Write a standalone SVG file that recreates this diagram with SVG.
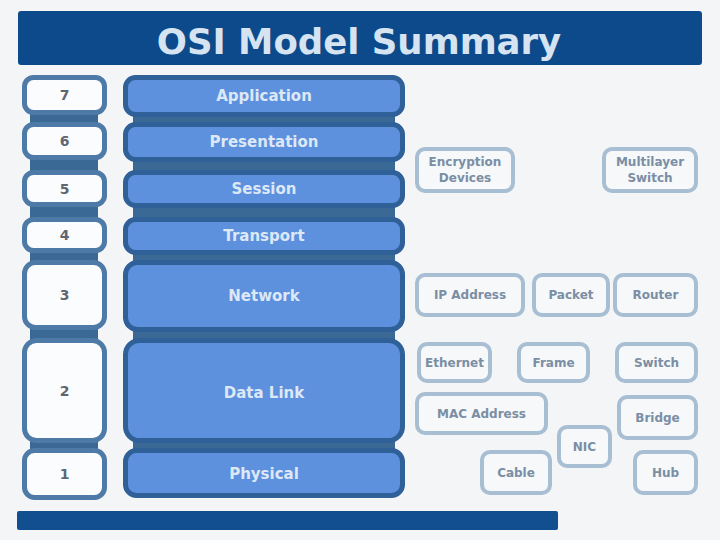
<svg xmlns="http://www.w3.org/2000/svg" width="720" height="540" viewBox="0 0 720 540">
<style>
  .num { fill:#fbfcfd; stroke:#4d7aa6; stroke-width:5; }
  .numt { font-family:"DejaVu Sans",Verdana,sans-serif; font-weight:bold; font-size:14px; fill:#5f6670; text-anchor:middle; }
  .bar { fill:#5d90dd; stroke:#2f6098; stroke-width:5; }
  .bart { font-family:"DejaVu Sans",Verdana,sans-serif; font-weight:bold; font-size:15px; fill:#dde8f7; text-anchor:middle; }
  .dev { fill:#f6f8fa; stroke:#a8bed3; stroke-width:4; }
  .devt { font-family:"DejaVu Sans",Verdana,sans-serif; font-weight:bold; font-size:12px; fill:#7a8ea4; text-anchor:middle; }
  .join { fill:#3a6995; }
</style>
<rect x="0" y="0" width="720" height="540" fill="#f4f5f7"/>
<g id="title">
  <rect x="18" y="11" width="684" height="54" rx="3" fill="#0d4a8c"/>
  <text x="359" y="54" font-family="'DejaVu Sans',Verdana,sans-serif" font-weight="bold" font-size="35.5" fill="#d6e4f2" text-anchor="middle">OSI Model Summary</text>
</g>
<g id="connectors">
  <rect class="join" x="30" y="112" width="68" height="14"/>
  <rect class="join" x="30" y="158" width="68" height="16"/>
  <rect class="join" x="30" y="203" width="68" height="18"/>
  <rect class="join" x="30" y="249" width="68" height="15"/>
  <rect class="join" x="30" y="327" width="68" height="15"/>
  <rect class="join" x="30" y="438" width="68" height="14"/>
  <rect class="join" x="133" y="113" width="262" height="13"/>
  <rect class="join" x="133" y="158" width="262" height="16"/>
  <rect class="join" x="133" y="204" width="262" height="17"/>
  <rect class="join" x="133" y="251" width="262" height="13"/>
  <rect class="join" x="133" y="328" width="262" height="14"/>
  <rect class="join" x="133" y="439" width="262" height="13"/>
</g>
<g id="layer7">
  <rect class="num" x="24.5" y="77.5" width="80" height="35" rx="9"/>
  <text class="numt" x="64.5" y="100">7</text>
  <rect class="bar" x="125.5" y="77.5" width="277" height="37" rx="10"/>
  <text class="bart" x="264" y="101">Application</text>
</g>
<g id="layer6">
  <rect class="num" x="24.5" y="124.5" width="80" height="33" rx="9"/>
  <text class="numt" x="64.5" y="146">6</text>
  <rect class="bar" x="125.5" y="124.5" width="277" height="35" rx="10"/>
  <text class="bart" x="264" y="147">Presentation</text>
</g>
<g id="layer5">
  <rect class="num" x="24.5" y="172.5" width="80" height="32" rx="9"/>
  <text class="numt" x="64.5" y="194">5</text>
  <rect class="bar" x="125.5" y="172.5" width="277" height="33" rx="10"/>
  <text class="bart" x="264" y="194">Session</text>
</g>
<g id="layer4">
  <rect class="num" x="24.5" y="219.5" width="80" height="31" rx="9"/>
  <text class="numt" x="64.5" y="240">4</text>
  <rect class="bar" x="125.5" y="219.5" width="277" height="33" rx="10"/>
  <text class="bart" x="264" y="241">Transport</text>
</g>
<g id="layer3">
  <rect class="num" x="24.5" y="262.5" width="80" height="65" rx="11"/>
  <text class="numt" x="64.5" y="300">3</text>
  <rect class="bar" x="125.5" y="262.5" width="277" height="67" rx="12"/>
  <text class="bart" x="264" y="301">Network</text>
</g>
<g id="layer2">
  <rect class="num" x="24.5" y="340.5" width="80" height="100" rx="12"/>
  <text class="numt" x="64.5" y="396">2</text>
  <rect class="bar" x="125.5" y="340.5" width="277" height="100" rx="14"/>
  <text class="bart" x="264" y="398">Data Link</text>
</g>
<g id="layer1">
  <rect class="num" x="24.5" y="450.5" width="80" height="47" rx="10"/>
  <text class="numt" x="64.5" y="479">1</text>
  <rect class="bar" x="125.5" y="450.5" width="277" height="45" rx="11"/>
  <text class="bart" x="264" y="479">Physical</text>
</g>
<g id="encryption-devices">
  <rect class="dev" x="417" y="149" width="96" height="42" rx="8"/>
  <text class="devt" x="465" y="166" font-size="11">Encryption</text>
  <text class="devt" x="465" y="182" font-size="11">Devices</text>
</g>
<g id="multilayer-switch">
  <rect class="dev" x="604" y="149" width="92" height="42" rx="8"/>
  <text class="devt" x="650" y="166" font-size="11">Multilayer</text>
  <text class="devt" x="650" y="182" font-size="11">Switch</text>
</g>
<g id="ip-address">
  <rect class="dev" x="417" y="275" width="106" height="40" rx="8"/>
  <text class="devt" x="470" y="299">IP Address</text>
</g>
<g id="packet">
  <rect class="dev" x="534" y="275" width="74" height="40" rx="8"/>
  <text class="devt" x="571" y="299">Packet</text>
</g>
<g id="router">
  <rect class="dev" x="615" y="275" width="81" height="40" rx="8"/>
  <text class="devt" x="655.5" y="299">Router</text>
</g>
<g id="ethernet">
  <rect class="dev" x="419" y="344" width="71" height="37" rx="8"/>
  <text class="devt" x="454.5" y="367">Ethernet</text>
</g>
<g id="frame">
  <rect class="dev" x="519" y="344" width="69" height="37" rx="8"/>
  <text class="devt" x="553.5" y="367">Frame</text>
</g>
<g id="switch">
  <rect class="dev" x="617" y="344" width="79" height="37" rx="8"/>
  <text class="devt" x="656.5" y="367">Switch</text>
</g>
<g id="mac-address">
  <rect class="dev" x="417" y="394" width="129" height="39" rx="8"/>
  <text class="devt" x="481.5" y="418">MAC Address</text>
</g>
<g id="bridge">
  <rect class="dev" x="619" y="397" width="77" height="41" rx="8"/>
  <text class="devt" x="657.5" y="422">Bridge</text>
</g>
<g id="nic">
  <rect class="dev" x="559" y="427" width="51" height="39" rx="8"/>
  <text class="devt" x="584.5" y="451">NIC</text>
</g>
<g id="cable">
  <rect class="dev" x="482" y="452" width="68" height="41" rx="8"/>
  <text class="devt" x="516" y="477">Cable</text>
</g>
<g id="hub">
  <rect class="dev" x="635" y="452" width="61" height="41" rx="8"/>
  <text class="devt" x="665.5" y="477">Hub</text>
</g>
<g id="footer">
  <rect x="17" y="511" width="541" height="19" rx="2" fill="#114f91"/>
</g>
</svg>
